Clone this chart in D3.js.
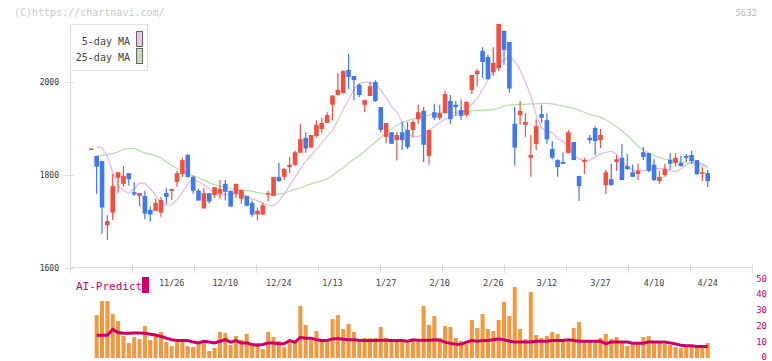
<!DOCTYPE html>
<html><head><meta charset="utf-8">
<script src="https://cdn.jsdelivr.net/npm/d3@7"></script>
<style>body{margin:0;background:#fff}svg{display:block}text{font-family:"DejaVu Sans Mono",monospace}</style>
</head><body><svg id="c" width="772" height="361"></svg>
<script>
// ---- data ----
const dateLabels=["11/26","12/10","12/24","1/13","1/27","2/10","2/26","3/12","3/27","4/10","4/24"];
const dateLabelIdx=[15,25,35,45,55,65,75,85,95,105,115];
const priceTicks=[1600,1800,2000];
const volTicks=[0,10,20,30,40,50];
const open=[1857,1841,1830,1692,1719,1794,1781,1804,1763,1755,1755,1725,1723,1719,1761,1766,1785,1802,1843,1796,1766,1728,1761,1757,1760,1781,1766,1760,1749,1755,1740,1715,1715,1759,1755,1796,1796,1817,1822,1848,1880,1859,1884,1899,1912,1951,1972,1976,2026,2013,1994,1951,1970,2000,1946,1882,1892,1875,1892,1897,1897,1920,1938,1841,1935,1923,1933,1959,1951,1940,1929,1983,2017,2067,2054,2021,2030,2110,2086,1910,1929,1908,1837,1867,1931,1918,1856,1832,1828,1847,1871,1798,1828,1880,1901,1875,1778,1791,1828,1837,1819,1806,1802,1849,1847,1822,1787,1800,1832,1826,1826,1841,1843,1832,1804,1804];
const close=[1857,1818,1730,1701,1776,1806,1798,1791,1758,1761,1717,1715,1740,1746,1753,1770,1804,1832,1796,1766,1745,1761,1743,1774,1770,1764,1732,1781,1768,1734,1715,1723,1735,1761,1796,1787,1813,1822,1849,1877,1857,1886,1908,1912,1929,1971,1983,2024,2011,2004,1972,1961,1991,1959,1897,1912,1867,1886,1875,1860,1914,1935,1865,1897,1923,1933,1974,1920,1946,1927,1957,2015,2024,2043,2006,2041,2125,2069,1986,1859,1938,1914,1843,1905,1923,1877,1837,1817,1824,1892,1832,1776,1832,1875,1873,1886,1806,1778,1834,1789,1813,1796,1809,1839,1809,1789,1796,1813,1824,1837,1819,1837,1830,1802,1806,1787];
const high=[1857,1841,1830,1714,1802,1806,1819,1804,1785,1761,1766,1733,1749,1753,1772,1770,1809,1837,1845,1799,1770,1772,1761,1774,1789,1789,1766,1781,1768,1755,1744,1730,1740,1766,1796,1826,1815,1839,1852,1910,1892,1886,1918,1923,1935,1971,2019,2024,2060,2013,1996,1961,2000,2004,1946,1912,1892,1892,1914,1914,1918,1951,1946,1897,1953,1951,1981,1972,1959,1963,1959,2015,2028,2075,2058,2075,2125,2110,2086,1946,1959,1933,1886,1920,1951,1933,1873,1834,1849,1897,1871,1798,1837,1886,1905,1899,1811,1824,1843,1867,1845,1822,1824,1860,1847,1834,1809,1824,1847,1847,1841,1845,1852,1832,1817,1811];
const low=[1857,1759,1673,1660,1703,1762,1775,1777,1755,1733,1705,1700,1723,1710,1738,1746,1775,1796,1794,1759,1745,1728,1738,1751,1749,1745,1732,1751,1738,1732,1710,1702,1715,1743,1755,1785,1789,1804,1819,1848,1848,1859,1880,1890,1912,1918,1972,1976,1985,1961,1968,1935,1970,1957,1892,1869,1867,1831,1854,1856,1882,1910,1828,1822,1918,1918,1933,1910,1927,1918,1925,1974,1991,2009,2006,2013,2024,2037,1977,1820,1908,1882,1796,1854,1912,1867,1834,1796,1824,1847,1832,1744,1802,1867,1843,1858,1759,1778,1809,1789,1811,1796,1789,1832,1806,1787,1781,1796,1811,1819,1819,1828,1824,1800,1787,1774];
const ma5=[null,1861,1858,1840,1806,1777,1766,1761,1770,1783,1782,1771,1756,1740,1735,1736,1747,1763,1781,1792,1786,1779,1770,1762,1758,1758,1759,1760,1759,1755,1748,1745,1740,1735,1734,1744,1760,1777,1795,1813,1830,1842,1855,1869,1883,1896,1917,1941,1962,1984,1997,2000,1999,1995,1983,1966,1947,1936,1912,1888,1882,1883,1886,1897,1904,1913,1920,1925,1930,1936,1942,1952,1965,1984,2004,2023,2037,2048,2054,2045,2026,2000,1970,1929,1901,1895,1891,1878,1873,1859,1844,1834,1831,1832,1839,1845,1849,1851,1845,1830,1818,1811,1809,1809,1810,1813,1814,1813,1809,1808,1813,1822,1828,1827,1824,1817];
const ma25=[null,1841,1842,1844,1846,1850,1855,1857,1857,1852,1847,1845,1841,1837,1828,1821,1814,1808,1803,1798,1794,1789,1783,1779,1776,1774,1771,1769,1768,1767,1765,1762,1760,1758,1758,1759,1761,1765,1769,1772,1777,1781,1784,1787,1792,1799,1808,1815,1826,1834,1842,1851,1861,1871,1880,1890,1899,1907,1913,1917,1920,1923,1926,1929,1931,1934,1935,1935,1935,1936,1937,1938,1939,1939,1940,1940,1944,1948,1951,1951,1952,1952,1953,1953,1954,1954,1953,1951,1948,1946,1943,1939,1935,1930,1927,1925,1919,1912,1904,1895,1885,1874,1862,1854,1848,1842,1838,1834,1833,1831,1828,1826,1825,1823,1821,1816];
const volume=[null,27,35.8,35.8,27.7,23.3,13.8,9.4,13.2,11.9,20.1,11.3,13.8,16.4,10.1,7.5,10.1,10.1,7.5,6.9,8.8,10.7,4.4,6.3,16.4,15.7,8.2,13.8,11.3,15.1,9.4,9.4,5.7,16.4,13.2,10.7,6.9,11.3,10.7,32.7,20.8,11.3,17,11.3,10.7,24.5,27,18.2,21.4,16.4,11.3,12.6,12.6,12.6,19.5,12.6,11.3,11.3,10.1,11.3,11.3,11.3,32.7,20.8,26.4,12.6,20.1,19.5,12.6,10.7,8.8,23.9,18.9,27.7,18.2,17,23.9,35.2,26.4,44.6,18.2,11.9,41.5,14.5,12.6,13.8,16.4,15.1,10.7,11.3,18.9,22.6,10.7,10.1,10.1,12.6,15.1,11.9,13.2,10.1,7.5,10.1,8.8,13.2,13.8,10.7,10.1,8.8,8.2,6.9,6.3,6.9,6.9,7.5,8.2,9.4];
const aiPredict=[null,14.3,14.3,14.3,18,16,15.5,15.5,15.7,15.7,15.5,15,14.5,13.5,12.5,11.5,11,11,11,10,9.5,10.5,10,9.5,10.5,11.5,10,11,9.5,9.5,8.5,8,8.5,9.5,9.5,9,9,11,10,13,12.5,12.5,11.5,11,11,12,12.3,11.8,11.5,11.5,11.2,11,11,11,11.2,11.2,11,11,11,10.5,11.5,11.2,11.2,11.2,11.5,11.2,10,9.2,8.6,8.6,10,11,10.5,11,11,11.5,12,11.5,10.5,10,10,10,10,10.5,10.5,10.5,11,11,11,11.5,11,10.5,10.5,10.5,10.5,10.5,9,10,10,10,10,9.3,9.3,9.3,10,10,10,10,9.5,8.8,8,7.7,7.7,7.3,7.3,7.3];

// ---- chart ----
const svg=d3.select("#c");
const x=d3.scaleLinear().domain([0,115]).range([91.3,707.7]);
const y=d3.scaleLinear().domain([1600,2000]).range([268,82]);
const yv=d3.scaleLinear().domain([0,50]).range([358,278.5]);
const xt=d3.scaleLinear().domain([0,11]).range([70,752]);
const UP="#f05040",DN="#4079ee",AX="#dcdcdc";

svg.append("text").attr("x",14).attr("y",16).attr("font-size",10).attr("fill","#c8c8c8").text("(C)https://chartnavi.com/");
svg.append("text").attr("x",757).attr("y",16).attr("text-anchor","end").attr("font-size",9).attr("fill","#bbb").text("5632");

// y axis
const ya=svg.append("g").attr("transform","translate(70,0)").call(d3.axisLeft(y).tickValues(priceTicks).tickSize(5).tickPadding(6).tickFormat(d3.format("d")));
ya.select(".domain").remove();
ya.selectAll("line").attr("stroke",AX).attr("x2",-5).attr("x1",4);
ya.selectAll("text").attr("font-size",8).attr("fill","#333").attr("font-family","DejaVu Sans Mono,monospace");
svg.append("line").attr("x1",70.5).attr("x2",70.5).attr("y1",24).attr("y2",273).attr("stroke",AX);

// x axis ticks (regular spacing)
const xa=svg.append("g").attr("transform","translate(0,267.5)").call(d3.axisBottom(xt).ticks(11).tickSize(5).tickFormat(""));
xa.select(".domain").attr("stroke",AX).attr("d","M70,0H752");
xa.selectAll("line").attr("stroke",AX).attr("y1",-3).attr("y2",5.5);

// date labels
svg.append("g").selectAll("text").data(dateLabelIdx).join("text")
  .attr("x",d=>x(d)).attr("y",285.5).attr("text-anchor","middle").attr("font-size",8.5).attr("fill","#444")
  .text((d,i)=>dateLabels[i]);

// volume bars
svg.append("g").selectAll("rect").data(volume.map((v,i)=>({v,i})).filter(d=>d.v!=null)).join("rect")
  .attr("x",d=>x(d.i)-2).attr("width",4).attr("y",d=>yv(d.v)).attr("height",d=>yv(0)-yv(d.v)).attr("fill","#f3983e");
// AI line
svg.append("path").datum(aiPredict.map((v,i)=>({v,i})).filter(d=>d.v!=null))
  .attr("d",d3.line().x(d=>x(d.i)).y(d=>yv(d.v))).attr("fill","none").attr("stroke","#cc0066").attr("stroke-width",3);
// right axis labels
svg.append("g").selectAll("text").data(volTicks).join("text")
  .attr("x",767).attr("y",d=>Math.min(359.5,yv(d)+3)).attr("text-anchor","end").attr("font-size",9).attr("fill","#cc0066").text(d=>d);
svg.append("text").attr("x",76).attr("y",290).attr("font-size",11).attr("fill","#cc0066").text("AI-Predict");
svg.append("rect").attr("x",142).attr("y",277).attr("width",7).attr("height",16).attr("fill","#cc0066");

// MA lines
const lineGen=d3.line().defined(d=>d.v!=null).x(d=>x(d.i)).y(d=>y(d.v));
svg.append("path").datum(ma25.map((v,i)=>({v,i}))).attr("d",lineGen).attr("fill","none").attr("stroke","#b5dca8").attr("stroke-width",1.2);
svg.append("path").datum(ma5.map((v,i)=>({v,i}))).attr("d",lineGen).attr("fill","none").attr("stroke","#e8b4ea").attr("stroke-width",1.2);

// candles
const cd=open.map((o,i)=>({i,o,c:close[i],h:high[i],l:low[i]}));
const cg=svg.append("g");
cg.selectAll("line").data(cd).join("line")
  .attr("x1",d=>x(d.i)).attr("x2",d=>x(d.i)).attr("y1",d=>y(d.h)).attr("y2",d=>y(d.l))
  .attr("stroke",d=>d.c>=d.o?UP:DN).attr("stroke-width",1.2);
cg.selectAll("rect").data(cd).join("rect")
  .attr("x",d=>x(d.i)-2.3).attr("width",4.6)
  .attr("y",d=>y(Math.max(d.o,d.c))).attr("height",d=>Math.max(1.5,Math.abs(y(d.o)-y(d.c))))
  .attr("fill",d=>d.c>=d.o?UP:DN);

// legend
const lg=svg.append("g");
lg.append("rect").attr("x",70.5).attr("y",24.5).attr("width",77).attr("height",46).attr("fill","#fff").attr("stroke","#e0e0e0");
lg.append("text").attr("x",130).attr("y",45).attr("text-anchor","end").attr("font-size",10).attr("fill","#444").text("5-day MA");
lg.append("text").attr("x",130).attr("y",61).attr("text-anchor","end").attr("font-size",10).attr("fill","#444").text("25-day MA");
lg.append("rect").attr("x",136.5).attr("y",31.5).attr("width",6).attr("height",15).attr("fill","#f0c0f0").attr("stroke","#666");
lg.append("rect").attr("x",136.5).attr("y",48.5).attr("width",6).attr("height",15).attr("fill","#c0e0b0").attr("stroke","#666");
</script></body></html>
